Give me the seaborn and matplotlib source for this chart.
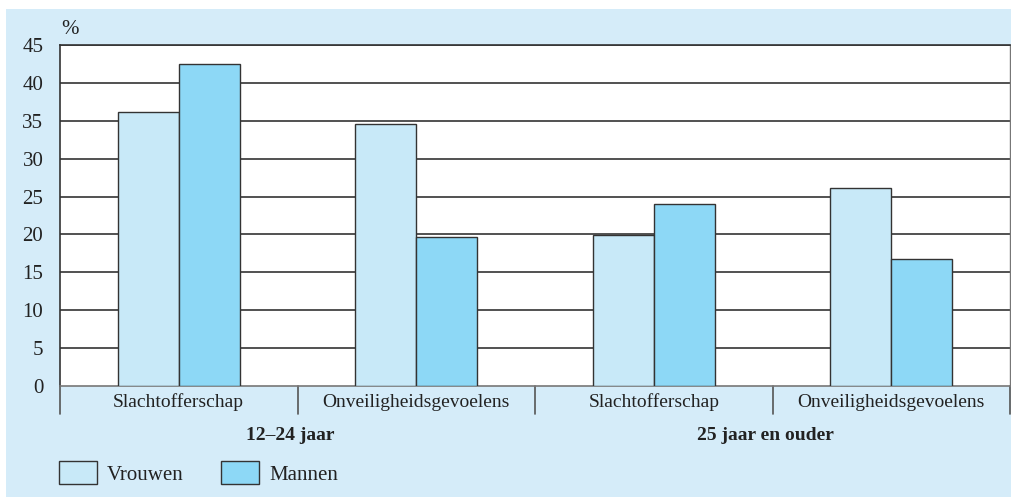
import numpy as np
import pandas as pd
import seaborn as sns
import matplotlib.pyplot as plt
from matplotlib.patches import Rectangle

groups = ['12–24 jaar', '12–24 jaar', '25 jaar en ouder', '25 jaar en ouder']
topics = ['Slachtofferschap', 'Onveiligheidsgevoelens', 'Slachtofferschap', 'Onveiligheidsgevoelens']
vrouwen = [36.1, 34.6, 19.9, 26.1]
mannen = [42.5, 19.7, 24.0, 16.8]
yticks = [0, 5, 10, 15, 20, 25, 30, 35, 40, 45]

keys = [f'{g}|{t}' for g, t in zip(groups, topics)]
df = pd.DataFrame({
    'key': keys * 2,
    'waarde': vrouwen + mannen,
    'geslacht': ['Vrouwen'] * 4 + ['Mannen'] * 4,
})

sns.set_theme(style='white')
plt.rcParams['font.family'] = ['Liberation Serif', 'DejaVu Serif']
plt.rcParams['text.color'] = '#222222'

BG = '#D5ECF9'
palette = {'Vrouwen': '#C8E9F8', 'Mannen': '#8DD8F6'}
FS = 14

fig = plt.figure(figsize=(10.11, 4.97), dpi=100)
fig.patch.set_facecolor('white')
fig.patches.append(Rectangle((6 / 1011, 0), 1, 1 - 9 / 497, transform=fig.transFigure,
                             facecolor=BG, edgecolor='none', zorder=-10))

ax = fig.add_axes([60 / 1011, 1 - 386 / 497, 950 / 1011, 341 / 497])
ax.set_facecolor('white')

sns.barplot(data=df, x='key', y='waarde', hue='geslacht', order=keys,
            hue_order=['Vrouwen', 'Mannen'], palette=palette, width=0.514,
            edgecolor='#333333', linewidth=1.0, saturation=1, ax=ax, zorder=3)

ax.set_ylim(0, 45)
ax.set_xlim(-0.5, 3.5)
ax.set_yticks(yticks)
ax.set_yticklabels([str(v) for v in yticks], fontsize=15, color='#222222')
ax.tick_params(axis='y', length=0, pad=12)
ax.set_xticks([])
ax.set_xlabel('')
ax.set_ylabel('')

for v in yticks[1:]:
    ax.axhline(v, color='#333333', linewidth=1.2, zorder=1)

for side in ['left', 'top']:
    ax.spines[side].set_color('#333333')
    ax.spines[side].set_linewidth(1.2)
ax.spines['right'].set_color('#777777')
ax.spines['right'].set_linewidth(1.0)
ax.spines['bottom'].set_color('#777777')
ax.spines['bottom'].set_linewidth(1.2)

xt = ax.get_xaxis_transform()
for xs in np.arange(-0.5, 4, 1.0):
    ax.plot([xs, xs], [0, -0.082], color='#555555', linewidth=1.2,
            transform=xt, clip_on=False)

for i, t in enumerate(topics):
    ax.text(i, -0.047, t, transform=xt, ha='center', va='center', fontsize=FS)

for i, g in enumerate(dict.fromkeys(groups)):
    ax.text(0.5 + 2 * i - 0.03, -0.144, g, transform=xt, ha='center', va='center',
            fontsize=FS, fontweight='bold')

fig.text(61 / 1011, 1 - 29 / 497, '%', fontsize=15, ha='left', va='center')

sns.move_legend(ax, loc='upper left', bbox_to_anchor=(59 / 1011, 1 - 461 / 497),
                bbox_transform=fig.transFigure, ncol=2, frameon=False, title=None,
                fontsize=15, handlelength=1.8, handleheight=1.35,
                handletextpad=0.5, columnspacing=1.8, borderpad=0, borderaxespad=0)
for h in ax.get_legend().get_patches():
    h.set_edgecolor('#333333')
    h.set_linewidth(1.0)

fig.savefig('out.png', dpi=100)
